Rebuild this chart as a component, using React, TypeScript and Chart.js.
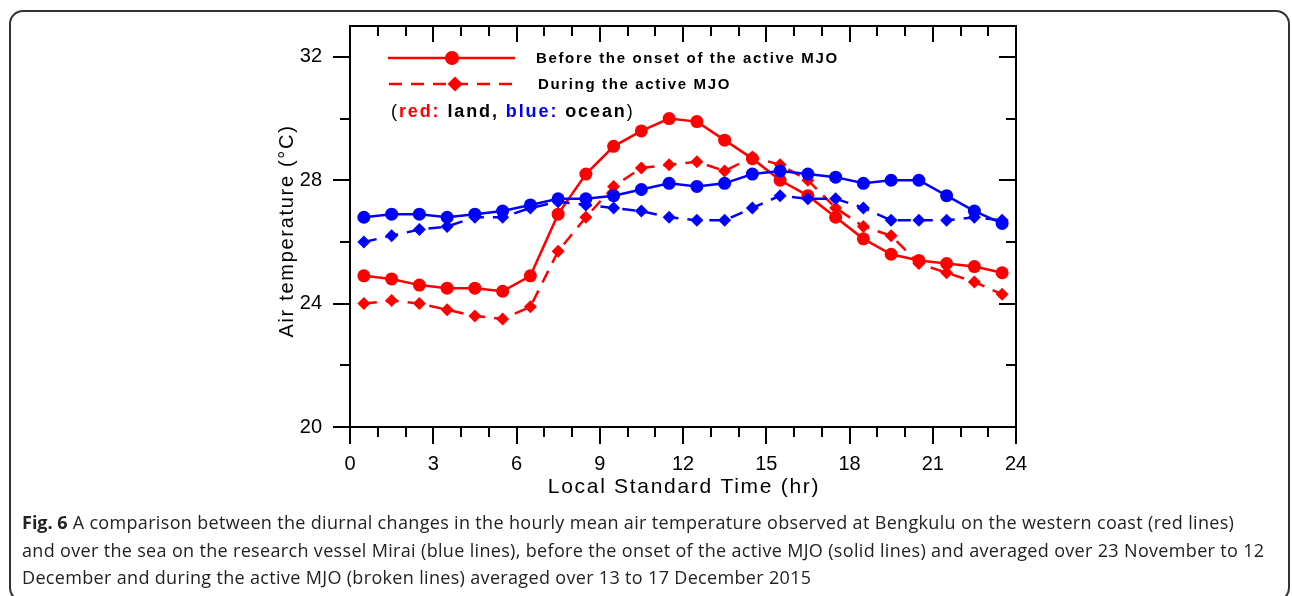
import React, { useEffect, useRef } from "react";
import { Chart, registerables } from "chart.js";

Chart.register(...registerables);

// ---------- data ----------
const hours = [0.5, 1.5, 2.5, 3.5, 4.5, 5.5, 6.5, 7.5, 8.5, 9.5, 10.5, 11.5, 12.5, 13.5, 14.5, 15.5, 16.5, 17.5, 18.5, 19.5, 20.5, 21.5, 22.5, 23.5];
const landBefore = [24.9, 24.8, 24.6, 24.5, 24.5, 24.4, 24.9, 26.9, 28.2, 29.1, 29.6, 30.0, 29.9, 29.3, 28.7, 28.0, 27.5, 26.8, 26.1, 25.6, 25.4, 25.3, 25.2, 25.0];
const landDuring = [24.0, 24.1, 24.0, 23.8, 23.6, 23.5, 23.9, 25.7, 26.8, 27.8, 28.4, 28.5, 28.6, 28.3, 28.75, 28.5, 28.0, 27.1, 26.5, 26.2, 25.3, 25.0, 24.7, 24.3];
const oceanBefore = [26.8, 26.9, 26.9, 26.8, 26.9, 27.0, 27.2, 27.4, 27.4, 27.5, 27.7, 27.9, 27.8, 27.9, 28.2, 28.3, 28.2, 28.1, 27.9, 28.0, 28.0, 27.5, 27.0, 26.6];
const oceanDuring = [26.0, 26.2, 26.4, 26.5, 26.8, 26.8, 27.1, 27.3, 27.2, 27.1, 27.0, 26.8, 26.7, 26.7, 27.1, 27.5, 27.4, 27.4, 27.1, 26.7, 26.7, 26.7, 26.8, 26.7];

const xTickLabels = [0, 3, 6, 9, 12, 15, 18, 21, 24];
const yTickLabels = [20, 24, 28, 32];
const yMinorTicks = [22, 26, 30];

const legendBefore = "Before the onset of the active MJO";
const legendDuring = "During the active MJO";
const xTitle = "Local Standard Time (hr)";
const yTitle = "Air temperature (°C)";

const RED = "#ff0000";
const BLUE = "#0000ff";
const FONT = '"Liberation Sans", Arial, Helvetica, sans-serif';

const toPoints = (vals: number[]) => hours.map((h, i) => ({ x: h, y: vals[i] }));

function drawCircle(ctx: CanvasRenderingContext2D, x: number, y: number, r: number, color: string) {
  ctx.beginPath();
  ctx.arc(x, y, r, 0, Math.PI * 2);
  ctx.fillStyle = color;
  ctx.fill();
}
function drawDiamond(ctx: CanvasRenderingContext2D, x: number, y: number, r: number, color: string) {
  ctx.beginPath();
  ctx.moveTo(x - r, y);
  ctx.lineTo(x, y - r);
  ctx.lineTo(x + r, y);
  ctx.lineTo(x, y + r);
  ctx.closePath();
  ctx.fillStyle = color;
  ctx.fill();
}

const frameTicksPlugin = {
  id: "frameTicks",
  afterDatasetsDraw(chart: any) {
    const { ctx, chartArea: a, scales } = chart;
    const x = scales.x;
    const y = scales.y;
    ctx.save();
    ctx.strokeStyle = "#000";
    ctx.lineWidth = 2;
    ctx.beginPath();
    ctx.rect(a.left, a.top, a.right - a.left, a.bottom - a.top);
    ctx.stroke();
    ctx.beginPath();
    for (let h = 0; h <= 24; h++) {
      const px = Math.round(x.getPixelForValue(h));
      const major = xTickLabels.includes(h);
      ctx.moveTo(px, a.bottom);
      ctx.lineTo(px, a.bottom + (major ? 17 : 10));
      ctx.moveTo(px, a.top);
      ctx.lineTo(px, a.top + (major ? 16 : 10));
    }
    const yt = [...yTickLabels.map((v) => [v, 1]), ...yMinorTicks.map((v) => [v, 0])];
    for (const [v, major] of yt) {
      const py = Math.round(y.getPixelForValue(v));
      ctx.moveTo(a.left, py);
      ctx.lineTo(a.left - (major ? 17 : 10), py);
      ctx.moveTo(a.right, py);
      ctx.lineTo(a.right - (major ? 17 : 10), py);
    }
    ctx.stroke();
    ctx.restore();
  },
};

const textPlugin = {
  id: "customText",
  afterDraw(chart: any) {
    const { ctx, chartArea: a } = chart;
    ctx.save();
    // axis titles
    ctx.fillStyle = "#000";
    ctx.textBaseline = "middle";
    ctx.textAlign = "center";
    (ctx as any).letterSpacing = "1.7px";
    ctx.font = `21px ${FONT}`;
    ctx.fillText(xTitle, (a.left + a.right) / 2 + 1, 487);
    ctx.save();
    ctx.translate(287, 231);
    ctx.rotate(-Math.PI / 2);
    ctx.font = `20px ${FONT}`;
    ctx.fillText(yTitle, 0, 0);
    ctx.restore();

    // legend
    ctx.strokeStyle = RED;
    ctx.lineWidth = 2.5;
    ctx.beginPath();
    ctx.moveTo(388, 58);
    ctx.lineTo(515, 58);
    ctx.stroke();
    drawCircle(ctx, 452, 58, 7, RED);
    ctx.setLineDash([13, 9]);
    ctx.beginPath();
    ctx.moveTo(389, 84);
    ctx.lineTo(514, 84);
    ctx.stroke();
    ctx.setLineDash([]);
    drawDiamond(ctx, 455, 84, 7.5, RED);

    ctx.fillStyle = "#000";
    ctx.textAlign = "left";
    ctx.font = `bold 15px ${FONT}`;
    (ctx as any).letterSpacing = "1.65px";
    ctx.fillText(legendBefore, 536, 59);
    ctx.fillText(legendDuring, 538, 85);

    const parts: [string, string, boolean][] = [
      ["(", "#000", false],
      ["red:", RED, true],
      [" land, ", "#000", true],
      ["blue:", BLUE, true],
      [" ocean", "#000", true],
      [")", "#000", false],
    ];
    (ctx as any).letterSpacing = "1.9px";
    let cx = 391;
    for (const [t, c, b] of parts) {
      ctx.font = `${b ? "bold " : ""}18px ${FONT}`;
      ctx.fillStyle = c;
      ctx.fillText(t, cx, 112);
      cx += ctx.measureText(t).width;
    }
    ctx.restore();
  },
};

function ChartCanvas() {
  const ref = useRef<HTMLCanvasElement | null>(null);
  useEffect(() => {
    if (!ref.current) return;
    const lineBase = { borderWidth: 2.5, tension: 0, pointBorderWidth: 0 };
    const chart = new Chart(ref.current, {
      type: "line",
      data: {
        datasets: [
          { ...lineBase, label: "Ocean before", data: toPoints(oceanBefore), borderColor: BLUE, backgroundColor: BLUE, pointStyle: "circle", pointRadius: 6.5 },
          { ...lineBase, label: "Ocean during", data: toPoints(oceanDuring), borderColor: BLUE, backgroundColor: BLUE, borderDash: [13, 9], pointStyle: "rectRot", pointRadius: 6.5 },
          { ...lineBase, label: "Land during", data: toPoints(landDuring), borderColor: RED, backgroundColor: RED, borderDash: [13, 9], pointStyle: "rectRot", pointRadius: 6.5 },
          { ...lineBase, label: "Land before", data: toPoints(landBefore), borderColor: RED, backgroundColor: RED, pointStyle: "circle", pointRadius: 6.5 },
        ],
      },
      options: {
        animation: false,
        responsive: false,
        devicePixelRatio: 1,
        layout: { padding: { left: 0, top: 26, right: 276, bottom: 0 } },
        plugins: { legend: { display: false }, tooltip: { enabled: false } },
        scales: {
          x: {
            type: "linear",
            min: 0,
            max: 24,
            grid: { display: false },
            border: { display: false },
            afterBuildTicks: (s: any) => {
              s.ticks = xTickLabels.map((v) => ({ value: v }));
            },
            afterFit: (s: any) => {
              s.height = 83;
            },
            ticks: { color: "#000", font: { family: FONT, size: 20 }, padding: 17, maxRotation: 0, autoSkip: false },
            title: { display: false },
          },
          y: {
            type: "linear",
            min: 20,
            max: 33,
            grid: { display: false },
            border: { display: false },
            afterBuildTicks: (s: any) => {
              s.ticks = yTickLabels.map((v) => ({ value: v }));
            },
            afterFit: (s: any) => {
              s.width = 350;
              s.paddingTop = 0;
              s.paddingBottom = 0;
            },
            ticks: { color: "#000", font: { family: FONT, size: 20 }, padding: 20 },
            title: { display: false },
          },
        },
      },
      plugins: [frameTicksPlugin, textPlugin],
    } as any);
    return () => chart.destroy();
  }, []);
  return <canvas ref={ref} width={1292} height={510} style={{ position: "absolute", left: 0, top: 0, width: 1292, height: 510 }} />;
}

export default function App() {
  return (
    <div style={{ position: "absolute", left: 0, top: 0, width: 1292, height: 596, overflow: "hidden", background: "#fff" }}>
      <div
        style={{
          position: "absolute",
          left: 9,
          top: 10,
          width: 1281,
          height: 592,
          border: "2px solid #333",
          borderRadius: 14,
          boxSizing: "border-box",
        }}
      />
      <ChartCanvas />
      <div
        style={{
          position: "absolute",
          left: 22,
          top: 509,
          fontFamily: '"Open Sans", sans-serif',
          fontSize: 18,
          letterSpacing: "0.33px",
          lineHeight: "27.5px",
          color: "#222",
          whiteSpace: "nowrap",
        }}
      >
        <b style={{ letterSpacing: 0 }}>Fig. 6</b> A comparison between the diurnal changes in the hourly mean air temperature observed at Bengkulu on the western coast (red lines)
        <br />
        and over the sea on the research vessel Mirai (blue lines), before the onset of the active MJO (solid lines) and averaged over 23 November to 12
        <br />
        December and during the active MJO (broken lines) averaged over 13 to 17 December 2015
      </div>
    </div>
  );
}
